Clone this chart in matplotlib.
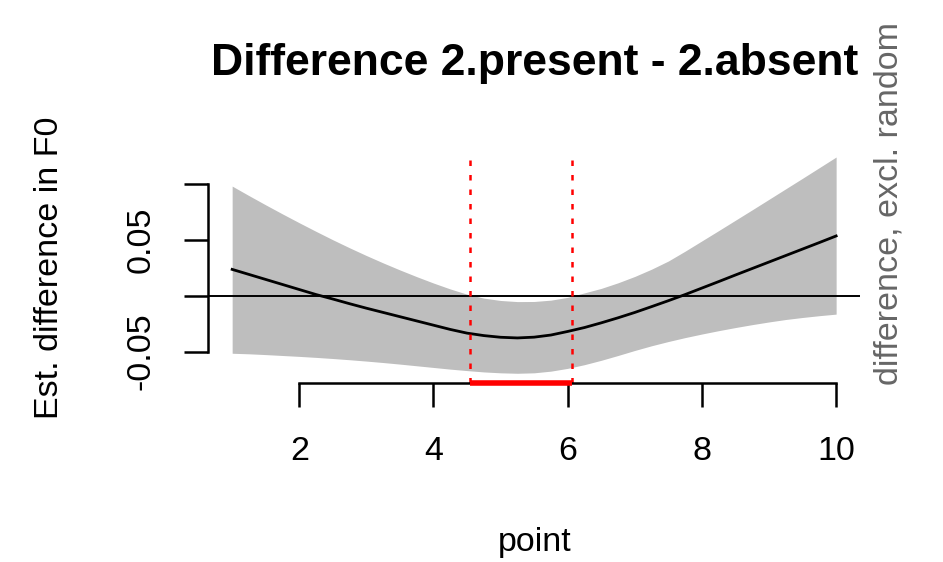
import matplotlib
matplotlib.use("Agg")
import matplotlib.pyplot as plt

plt.rcParams['font.family'] = ['Liberation Sans', 'DejaVu Sans']

# Estimated difference curve with pointwise CI
point = [1.00, 1.25, 1.50, 1.75, 2.00, 2.25, 2.50, 2.75, 3.00, 3.25,
         3.50, 3.75, 4.00, 4.25, 4.50, 4.75, 5.00, 5.25, 5.50, 5.75,
         6.00, 6.25, 6.50, 6.75, 7.00, 7.25, 7.50, 7.75, 8.00, 8.25,
         8.50, 8.75, 9.00, 9.25, 9.50, 9.75, 10.00]
est = [0.0235, 0.0190, 0.0145, 0.0100, 0.0055, 0.0010, -0.0030, -0.0072, -0.0112, -0.0150,
       -0.0188, -0.0226, -0.0264, -0.0302, -0.0335, -0.0357, -0.0372, -0.0378, -0.0371, -0.0352,
       -0.0320, -0.0285, -0.0243, -0.0198, -0.0150, -0.0098, -0.0045, 0.0010, 0.0068, 0.0126,
       0.0185, 0.0243, 0.0301, 0.0359, 0.0417, 0.0475, 0.0534]
ci_upper = [0.0980, 0.0895, 0.0812, 0.0731, 0.0652, 0.0575, 0.0500, 0.0428, 0.0359, 0.0293,
            0.0230, 0.0170, 0.0113, 0.0060, 0.0013, -0.0022, -0.0043, -0.0053, -0.0052, -0.0040,
            -0.0015, 0.0025, 0.0065, 0.0115, 0.0172, 0.0237, 0.0310, 0.0398, 0.0490, 0.0582,
            0.0675, 0.0768, 0.0862, 0.0956, 0.1050, 0.1145, 0.1240]
ci_lower = [-0.0515, -0.0520, -0.0527, -0.0535, -0.0543, -0.0552, -0.0562, -0.0573, -0.0585, -0.0598,
            -0.0612, -0.0627, -0.0642, -0.0657, -0.0670, -0.0682, -0.0690, -0.0694, -0.0690, -0.0675,
            -0.0650, -0.0617, -0.0578, -0.0535, -0.0490, -0.0448, -0.0410, -0.0375, -0.0343, -0.0313,
            -0.0285, -0.0259, -0.0235, -0.0213, -0.0195, -0.0179, -0.0165]

# region where the difference is significant
sig_region = [4.54, 6.07]

xticks = [2, 4, 6, 8, 10]
yticks = [-0.05, 0.0, 0.05, 0.10]
ytick_labels = ['-0.05', '', '0.05', '']

W, H = 943, 562
fig = plt.figure(figsize=(W / 100, H / 100), dpi=100)
ax = fig.add_axes([208 / W, (H - 383) / H, (860.3 - 208) / W, (383 - 155) / H])

ax.fill_between(point, ci_lower, ci_upper, color='#bebebe', linewidth=0)
ax.axhline(0, color='black', lw=1.4)
ax.plot(point, est, color='black', lw=2.0)

for xv in sig_region:
    ax.axvline(xv, color='red', lw=1.8, linestyle=(0, (2.2, 3.6)))

ax.set_xlim(0.64, 10.36)
ax.set_ylim(-0.0781, 0.1258)
ymin = ax.get_ylim()[0]
ax.plot(sig_region, [ymin, ymin], color='red', lw=4, solid_capstyle='butt', clip_on=False, zorder=5)

for s in ['top', 'right']:
    ax.spines[s].set_visible(False)
ax.spines['left'].set_bounds(yticks[0], yticks[-1])
ax.spines['bottom'].set_bounds(xticks[0], xticks[-1])
for s in ['left', 'bottom']:
    ax.spines[s].set_linewidth(1.8)

ax.set_xticks(xticks)
ax.set_xticklabels([str(t) for t in xticks])
ax.set_yticks(yticks)
ax.set_yticklabels(ytick_labels, rotation=90, va='center')
ax.tick_params(axis='both', direction='out', length=17, width=1.8, labelsize=24.5)
ax.tick_params(axis='x', pad=21.5)
ax.tick_params(axis='y', pad=20)

fig.text(535 / W, 1 - 75 / H, 'Difference 2.present - 2.absent', ha='center', va='baseline',
         fontsize=32, fontweight='bold')
fig.text(535 / W, 1 - 543 / H, 'point', ha='center', va='center', fontsize=24.5)
fig.text(50 / W, 1 - 268 / H, 'Est. difference in F0', ha='center', va='center',
         rotation=90, fontsize=24.5)
fig.text(889 / W, 1 - 204 / H, 'difference, excl. random', ha='center', va='center',
         rotation=90, fontsize=24.5, color='#666666')

fig.savefig('out.png', dpi=100)
